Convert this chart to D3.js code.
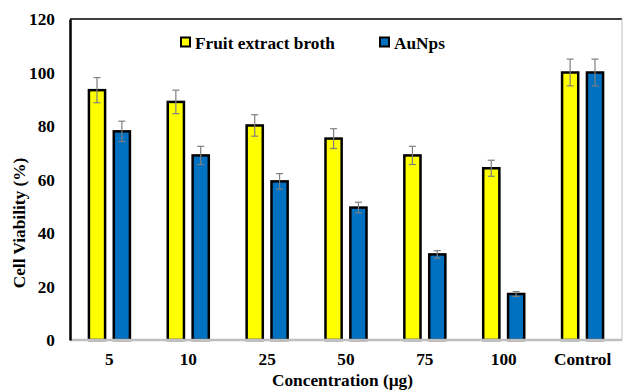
<!DOCTYPE html>
<html>
<head>
<meta charset="utf-8">
<script src="https://cdn.jsdelivr.net/npm/d3@7"></script>
<style>
  body { margin: 0; background: #fff; }
</style>
</head>
<body>
<div class="svg_container"></div>
<script>
var categories = ["5", "10", "25", "50", "75", "100", "Control"];
var seriesNames = ["Fruit extract broth", "AuNps"];
var fruitValues = [93.4, 89, 80.2, 75.3, 69, 64.2, 100];
var fruitErrors = [4.7, 4.4, 4, 3.7, 3.4, 3, 5];
var auValues = [78, 69, 59.3, 49.5, 32, 17.2, 100];
var auErrors = [3.8, 3.4, 2.9, 2, 1.4, 0.9, 5];
var yTicks = [0, 20, 40, 60, 80, 100, 120];

const WIDTH = 625;
const HEIGHT = 392;
const LEFT = 70, RIGHT = 622, TOP = 19, BOTTOM = 340;
const COLORS = ["#ffff00", "#0070c0"];
const FONT = "Liberation Serif";
const FS = 17.3;

var translate = function (x, y) {
    return "translate(" + x + "," + y + ")";
};

var xScale = d3.scaleBand().domain(categories).range([LEFT, RIGHT]);
var yScale = d3.scaleLinear().domain([0, 120]).range([BOTTOM, TOP]);
var sub = d3.scaleBand().domain(seriesNames).range([-22, 22]).paddingInner(0.35).paddingOuter(0.06);

var svg = d3.select('.svg_container').append('svg')
    .attr('width', WIDTH)
    .attr('height', HEIGHT)
    .attr('font-family', FONT)
    .attr('font-weight', 'bold');

// frame: top black, right gray
svg.append('line').attr('x1', LEFT).attr('x2', RIGHT).attr('y1', TOP).attr('y2', TOP)
    .attr('stroke', '#000').attr('stroke-width', 1.5);
svg.append('line').attr('x1', RIGHT).attr('x2', RIGHT).attr('y1', TOP).attr('y2', BOTTOM)
    .attr('stroke', '#bfbfbf').attr('stroke-width', 1);

var rows = categories.map(function (c, i) {
    return [
        {cat: c, s: seriesNames[0], v: fruitValues[i], e: fruitErrors[i], color: COLORS[0]},
        {cat: c, s: seriesNames[1], v: auValues[i], e: auErrors[i], color: COLORS[1]}
    ];
});
var flat = [].concat.apply([], rows);

var bx = function (d) {
    return xScale(d.cat) + xScale.bandwidth() / 2 + sub(d.s);
};

svg.append('g').selectAll('rect').data(flat).enter().append('rect')
    .attr('x', bx)
    .attr('y', function (d) { return yScale(d.v); })
    .attr('width', sub.bandwidth())
    .attr('height', function (d) { return BOTTOM - yScale(d.v); })
    .attr('fill', function (d) { return d.color; })
    .attr('stroke', '#000')
    .attr('stroke-width', 2.5);

// error bars
var eg = svg.append('g').attr('stroke', '#7f7f7f').attr('stroke-width', 1.2);
flat.forEach(function (d) {
    var cx = bx(d) + sub.bandwidth() / 2;
    eg.append('line').attr('x1', cx).attr('x2', cx)
        .attr('y1', yScale(d.v + d.e)).attr('y2', yScale(d.v - d.e));
    [d.v + d.e, d.v - d.e].forEach(function (v) {
        eg.append('line').attr('x1', cx - 3.5).attr('x2', cx + 3.5)
            .attr('y1', yScale(v)).attr('y2', yScale(v));
    });
});

// x axis
var xAxis = svg.append('g')
    .attr('transform', translate(0, BOTTOM))
    .call(d3.axisBottom(xScale).tickSize(0).tickPadding(13));
xAxis.attr('font-family', FONT).attr('font-size', FS);
xAxis.select('.domain').attr('stroke', '#bfbfbf').attr('stroke-width', 2.5)
    .attr('d', 'M' + LEFT + ',0H' + RIGHT);
xAxis.selectAll('text').attr('fill', '#000');

// y axis
var yAxis = svg.append('g')
    .attr('transform', translate(LEFT, 0))
    .call(d3.axisLeft(yScale).tickValues(yTicks).tickSize(0).tickPadding(15));
yAxis.attr('font-family', FONT).attr('font-size', FS);
yAxis.select('.domain').attr('stroke', '#000').attr('stroke-width', 2.5);
yAxis.selectAll('text').attr('fill', '#000');

// titles
svg.append('text').attr('x', 342.5).attr('y', 385.5)
    .attr('text-anchor', 'middle').attr('font-size', FS)
    .text('Concentration (µg)');
svg.append('text').attr('transform', translate(25, 223) + ' rotate(-90)')
    .attr('text-anchor', 'middle').attr('font-size', FS)
    .text('Cell Viability (%)');

// legend
var legX = [181, 380];
seriesNames.forEach(function (s, i) {
    var g = svg.append('g').attr('transform', translate(legX[i], 37.5));
    g.append('rect').attr('x', 0).attr('y', 0).attr('width', 9).attr('height', 9)
        .attr('fill', COLORS[i]).attr('stroke', '#000').attr('stroke-width', 2);
    g.append('text').attr('x', 14).attr('y', 11).attr('font-size', FS).text(s);
});
</script>
</body>
</html>
